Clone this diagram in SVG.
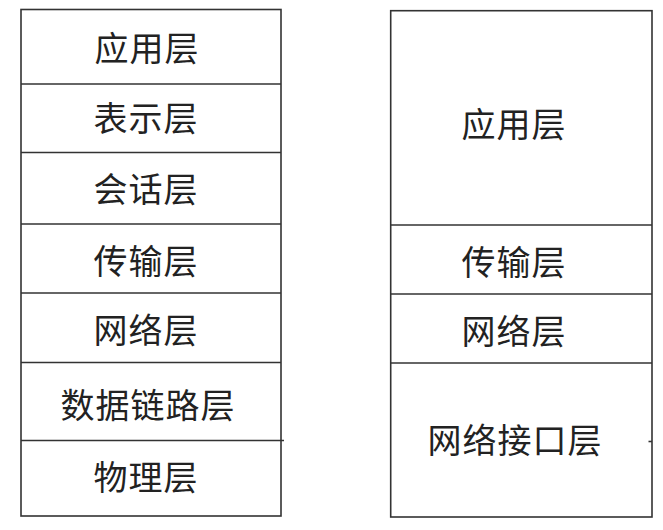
<svg xmlns="http://www.w3.org/2000/svg" width="663" height="530" viewBox="0 0 663 530">
<style>
.box{fill:#fff;stroke:#333;stroke-width:1.6}
.div{stroke:#333;stroke-width:1.6;fill:none}
.t{font-family:"Noto Sans CJK SC","Noto Sans",sans-serif;font-size:34px;fill:#222;text-anchor:middle;letter-spacing:1px}
</style>
<rect width="663" height="530" fill="#fff"/>
<g id="osi">
<rect class="box" x="21" y="9.5" width="260" height="506.5"/>
<g id="osi-app"><text class="t" x="147" y="61">应用层</text></g>
<g id="osi-pres"><text class="t" x="146" y="131">表示层</text></g>
<g id="osi-sess"><text class="t" x="146" y="202">会话层</text></g>
<g id="osi-trans"><text class="t" x="146" y="274">传输层</text></g>
<g id="osi-net"><text class="t" x="146" y="343">网络层</text></g>
<g id="osi-link"><text class="t" x="148" y="418">数据链路层</text></g>
<g id="osi-phys"><text class="t" x="146" y="490">物理层</text></g>
</g>
<g id="tcpip">
<rect class="box" x="390.7" y="10.7" width="261.3" height="506.3"/>
<g id="tcp-app"><text class="t" x="514" y="137">应用层</text></g>
<g id="tcp-trans"><text class="t" x="514" y="275">传输层</text></g>
<g id="tcp-net"><text class="t" x="514" y="344">网络层</text></g>
<g id="tcp-if"><text class="t" x="515" y="453">网络接口层</text></g>
</g>
<g id="connectors">
<line class="div" x1="21" y1="84" x2="281" y2="84"/>
<line class="div" x1="21" y1="152.5" x2="281" y2="152.5"/>
<line class="div" x1="21" y1="224" x2="281" y2="224"/>
<line class="div" x1="21" y1="293" x2="281" y2="293"/>
<line class="div" x1="21" y1="362.5" x2="281" y2="362.5"/>
<line class="div" x1="21" y1="440.5" x2="284" y2="440.5"/>
<line class="div" x1="390.7" y1="225" x2="652" y2="225"/>
<line class="div" x1="390.7" y1="294" x2="652" y2="294"/>
<line class="div" x1="390.7" y1="363" x2="652" y2="363"/>
<line class="div" x1="648.5" y1="441.5" x2="652" y2="441.5"/>
</g>
</svg>
